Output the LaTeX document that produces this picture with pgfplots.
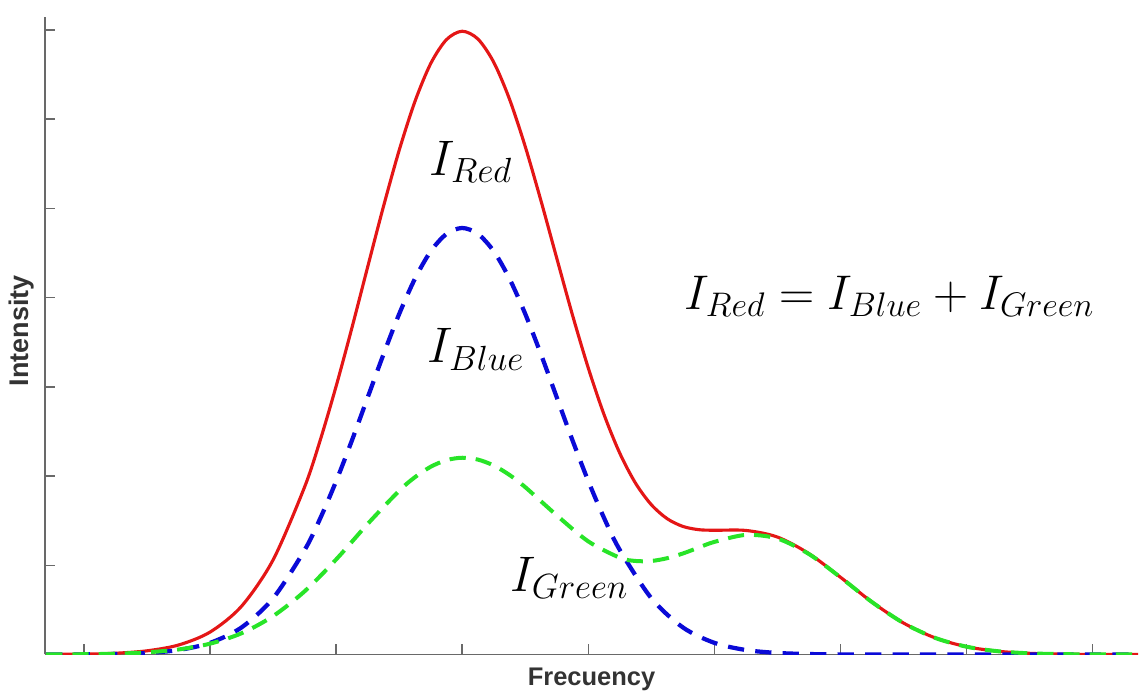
\RequirePackage{fix-cm}
\documentclass[border=0pt]{standalone}
\usepackage{pgfplots}
\pgfplotsset{compat=1.18}
\usepackage{fontspec}
\newfontfamily\arialbf{Liberation Sans}
\definecolor{myred}{RGB}{228,22,22}
\definecolor{myblue}{RGB}{10,10,215}
\definecolor{mygreen}{RGB}{40,228,40}
\definecolor{axgray}{RGB}{105,105,105}
\begin{document}
\begin{tikzpicture}
\begin{axis}[
  scale only axis,
  width=437.6pt, height=255.2pt,
  xmin=-0.309, xmax=8.36, ymin=0, ymax=7.145,
  axis x line=bottom, axis y line=left,
  axis line style={-, axgray, line width=0.7pt},
  xtick={0,1,2,3,4,5,6,7,8}, ytick={1,2,3,4,5,6,7},
  xticklabels={}, yticklabels={},
  tick align=inside, major tick length=4pt,
  tick style={axgray, line width=0.6pt},
  xlabel={\arialbf\bfseries\fontsize{10.2}{12}\selectfont Frecuency},
  ylabel={\arialbf\bfseries\fontsize{10.8}{12}\selectfont Intensity},
  every axis x label/.style={at={(axis description cs:0.5,0)}, anchor=center, yshift=-10pt, text=black!80},
  every axis y label/.style={at={(axis description cs:0,0.508)}, xshift=-9.2pt, anchor=center, rotate=90, text=black!80},
  clip=true,
]
% red = blue + green
\addplot[myred, line width=1.25pt, smooth] coordinates {
(-0.3,0.001)(0,0.004)(0.25,0.014)(0.5,0.041)(0.75,0.106)(1.0,0.251)(1.25,0.541)(1.5,1.060)(1.75,1.878)(1.875,2.407)(2.0,3.007)(2.125,3.660)(2.25,4.343)(2.375,5.019)(2.5,5.651)(2.625,6.198)(2.75,6.623)(2.875,6.891)(3.0,6.985)(3.125,6.897)(3.25,6.637)(3.375,6.223)(3.5,5.691)(3.625,5.082)(3.75,4.439)(3.875,3.801)(4.0,3.209)(4.125,2.687)(4.25,2.254)(4.375,1.918)(4.5,1.678)(4.625,1.522)(4.75,1.435)(4.875,1.399)(5.0,1.392)(5.25,1.390)(5.5,1.316)(5.75,1.130)(6.0,0.865)(6.25,0.587)(6.5,0.352)(6.75,0.186)(7.0,0.087)(7.25,0.036)(7.5,0.013)(7.75,0.004)(8.0,0.001)(8.25,0)(8.4,0)
};
% blue
\addplot[myblue, line width=1.7pt, dash pattern=on 6.5pt off 4.5pt, smooth] coordinates {
(-0.3,0)(0,0.001)(0.25,0.005)(0.5,0.017)(0.75,0.050)(1.0,0.130)(1.25,0.303)(1.5,0.630)(1.75,1.170)(1.875,1.529)(2.0,1.942)(2.125,2.398)(2.25,2.880)(2.375,3.362)(2.5,3.816)(2.625,4.211)(2.75,4.519)(2.875,4.713)(3.0,4.78)(3.125,4.713)(3.25,4.519)(3.375,4.211)(3.5,3.816)(3.625,3.362)(3.75,2.880)(3.875,2.398)(4.0,1.942)(4.125,1.529)(4.25,1.170)(4.5,0.630)(4.75,0.303)(5.0,0.130)(5.25,0.050)(5.5,0.017)(5.75,0.005)(6.0,0.001)(6.25,0)(6.5,0)(7.0,0)(7.5,0)(8.0,0)(8.4,0)
};
% green
\addplot[mygreen, line width=1.6pt, dash pattern=on 6.5pt off 4pt, smooth] coordinates {
(-0.3,0.001)(0,0.003)(0.25,0.009)(0.5,0.024)(0.75,0.056)(1.0,0.121)(1.25,0.238)(1.5,0.430)(1.75,0.708)(2.0,1.065)(2.25,1.463)(2.5,1.835)(2.625,1.987)(2.75,2.104)(2.875,2.178)(3.0,2.205)(3.125,2.184)(3.25,2.118)(3.375,2.012)(3.5,1.875)(3.75,1.559)(4.0,1.267)(4.25,1.084)(4.375,1.048)(4.5,1.048)(4.625,1.079)(4.75,1.132)(4.875,1.198)(5.0,1.262)(5.25,1.340)(5.5,1.299)(5.75,1.125)(6.0,0.864)(6.25,0.587)(6.5,0.352)(6.75,0.186)(7.0,0.087)(7.25,0.036)(7.5,0.013)(7.75,0.004)(8.0,0.001)(8.25,0)(8.4,0)
};
\node[font=\fontsize{20}{24}\selectfont] at (axis cs:3.07,5.52) {$I_{Red}$};
\node[font=\fontsize{20}{24}\selectfont] at (axis cs:3.11,3.42) {$I_{Blue}$};
\node[font=\fontsize{20}{24}\selectfont] at (axis cs:3.85,0.86) {$I_{Green}$};
\node[font=\fontsize{19.5}{23}\selectfont] at (axis cs:6.39,4.01) {$I_{Red}=I_{Blue}+I_{Green}$};
\end{axis}
\useasboundingbox (-18pt,-15.2pt) rectangle (437.6pt,262pt);
\end{tikzpicture}
\end{document}
